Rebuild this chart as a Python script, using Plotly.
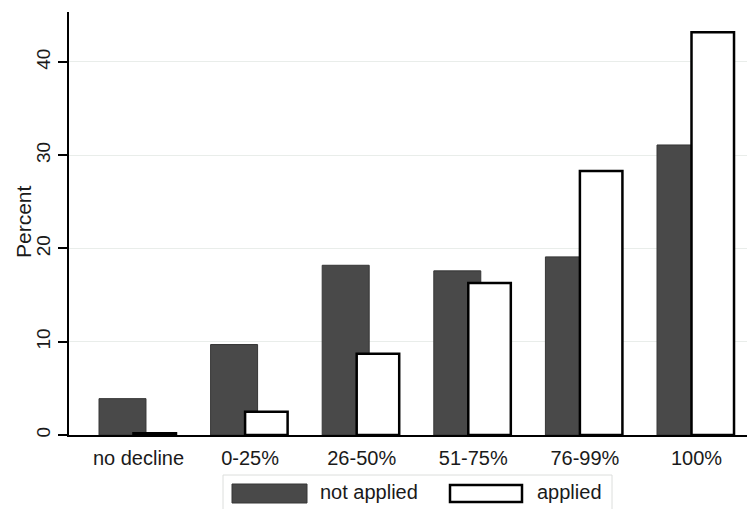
import plotly.graph_objects as go

categories = ["no decline", "0-25%", "26-50%", "51-75%", "76-99%", "100%"]
not_applied = [3.9, 9.7, 18.2, 17.6, 19.1, 31.1]
applied = [0.2, 2.5, 8.7, 16.3, 28.3, 43.2]
series_names = ["not applied", "applied"]
y_ticks = [0, 10, 20, 30, 40]

# page body has an 8px default margin; compensate so screen pixels match
OFF = 8
W, H = 755 - OFF, 509 - OFF
PL, PT, PBOT = 69, 12, 435          # screen pixel positions of plot edges
L, T = PL - OFF, PT - OFF
B = H - (PBOT - OFF)
R = 0
FONT = "Liberation Sans, Arial, sans-serif"
DARK = "#494949"
TXT = "#1a1a1a"

x = list(range(len(categories)))

fig = go.Figure()
fig.add_trace(go.Bar(
    x=x, y=not_applied, name=series_names[0],
    width=0.421, offset=-0.354,
    marker=dict(color=DARK, line=dict(color="#363636", width=1)),
    showlegend=False,
))
fig.add_trace(go.Bar(
    x=x, y=applied, name=series_names[1],
    width=0.381, offset=-0.045,
    marker=dict(color="white", line=dict(color="black", width=2.5)),
    showlegend=False,
))

pw = W - L - R
ph = H - T - B


def px2x(p):
    return (p - PL) / pw


def px2y(p):
    return (PBOT - p) / ph


shapes = [
    # legend frame
    dict(type="rect", xref="paper", yref="paper",
         x0=px2x(223), x1=px2x(612), y0=px2y(515), y1=px2y(475),
         line=dict(color="#dcdedc", width=1), fillcolor="white", layer="below"),
    # legend keys
    dict(type="rect", xref="paper", yref="paper",
         x0=px2x(232), x1=px2x(307), y0=px2y(503), y1=px2y(484),
         line=dict(color="#363636", width=1), fillcolor=DARK),
    dict(type="rect", xref="paper", yref="paper",
         x0=px2x(450), x1=px2x(522), y0=px2y(502), y1=px2y(485),
         line=dict(color="black", width=2.5), fillcolor="white"),
]
annotations = [
    dict(text=series_names[0], xref="paper", yref="paper", x=px2x(318), y=px2y(492),
         xanchor="left", yanchor="middle", showarrow=False,
         font=dict(family=FONT, size=20, color=TXT)),
    dict(text=series_names[1], xref="paper", yref="paper", x=px2x(535), y=px2y(492),
         xanchor="left", yanchor="middle", showarrow=False,
         font=dict(family=FONT, size=20, color=TXT)),
    dict(text="Percent", xref="paper", yref="paper", x=px2x(23), y=px2y(222),
         xanchor="center", yanchor="middle", showarrow=False, textangle=-90,
         font=dict(family=FONT, size=21, color=TXT)),
]

fig.update_layout(
    width=W, height=H,
    margin=dict(l=L, r=R, t=T, b=B, pad=0),
    paper_bgcolor="white", plot_bgcolor="white",
    barmode="overlay",
    font=dict(family=FONT, color=TXT),
    shapes=shapes, annotations=annotations,
    xaxis=dict(
        range=[-0.6228, 5.524],
        tickvals=x, ticktext=categories,
        showgrid=False, zeroline=False, automargin=False,
        showline=True, linecolor="black", linewidth=1.5,
        ticks="", ticklabelstandoff=4,
        tickfont=dict(size=20, color=TXT),
    ),
    yaxis=dict(
        range=[0, 45.36],
        tickvals=y_ticks,
        showgrid=True, gridcolor="#e9edea", gridwidth=1,
        zeroline=False, automargin=False,
        showline=True, linecolor="black", linewidth=1.5,
        ticks="outside", ticklen=9, tickcolor="black", tickwidth=1.5,
        tickangle=-90, ticklabelstandoff=1,
        tickfont=dict(size=19, color=TXT),
    ),
)

fig.write_html("out.html")
